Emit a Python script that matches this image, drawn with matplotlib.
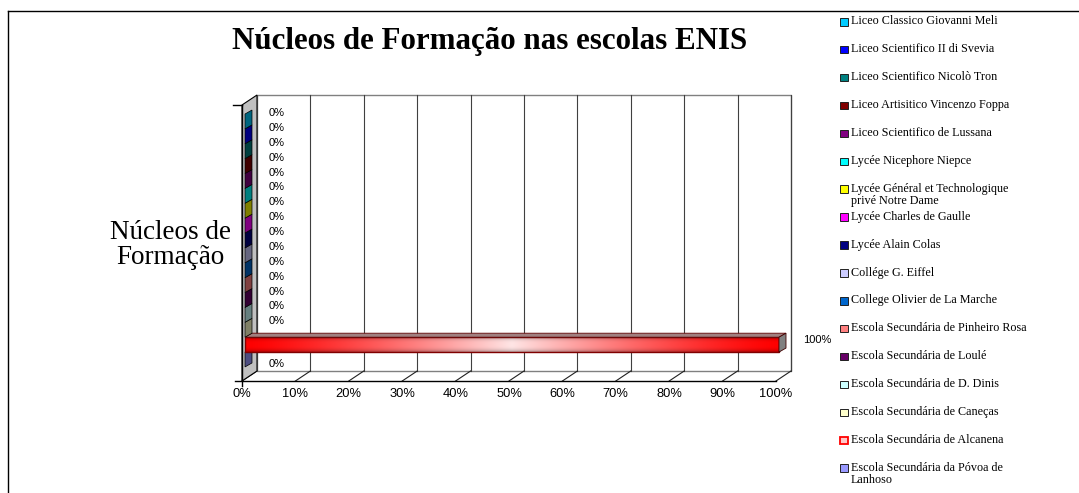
import numpy as np
import matplotlib
matplotlib.use('Agg')
import matplotlib.pyplot as plt
from matplotlib.patches import Polygon, Rectangle
from matplotlib.lines import Line2D

# series in legend order (top of chart first)
schools = [
    'Liceo Classico Giovanni Meli',
    'Liceo Scientifico II di Svevia',
    'Liceo Scientifico Nicolò Tron',
    'Liceo Artisitico Vincenzo Foppa',
    'Liceo Scientifico de Lussana',
    'Lycée Nicephore Niepce',
    'Lycée Général et Technologique\nprivé Notre Dame',
    'Lycée Charles de Gaulle',
    'Lycée Alain Colas',
    'Collége G. Eiffel',
    'College Olivier de La Marche',
    'Escola Secundária de Pinheiro Rosa',
    'Escola Secundária de Loulé',
    'Escola Secundária de D. Dinis',
    'Escola Secundária de Caneças',
    'Escola Secundária de Alcanena',
    'Escola Secundária da Póvoa de\nLanhoso',
]
values = [0, 0, 0, 0, 0, 0, 0, 0, 0, 0, 0, 0, 0, 0, 0, 100, 0]
colors = ['#00CCFF', '#0000FF', '#008080', '#800000', '#800080', '#00FFFF',
          '#FFFF00', '#FF00FF', '#000080', '#CCCCFF', '#0066CC', '#FF8080',
          '#660066', '#CCFFFF', '#FFFFCC', '#FF0000', '#9999FF']
category = 'Núcleos de\nFormação'
title = 'Núcleos de Formação nas escolas ENIS'
xticks = [0, 10, 20, 30, 40, 50, 60, 70, 80, 90, 100]

W, H = 1079, 493
SERIF = ['Liberation Serif', 'DejaVu Serif']
SANS = ['Liberation Sans', 'DejaVu Sans']


def fx(px):
    return px / W


def fy(py):
    return 1 - py / H


def shade(c, f=0.5):
    r, g, b = matplotlib.colors.to_rgb(c)
    return (r * f, g * f, b * f)


fig = plt.figure(figsize=(W / 100, H / 100), dpi=100)
ax = fig.add_axes([fx(242), fy(381), 534 / W, 276 / H])
y0, y1 = -1.31, 17.24
ax.axis('off')

sx = 534 / 100
sy = 276 / (y1 - y0)


def off(dxp, dyp):
    return dxp / sx, dyp / sy


WX, WY = off(15, 10)   # wall depth
FX, FY = off(3, 2)     # bar front face
BX, BY = off(10, 6)    # bar back face

# back wall, floor, side wall
ax.add_patch(Polygon([(WX, y0 + WY), (100 + WX, y0 + WY), (100 + WX, y1 + WY), (WX, y1 + WY)],
                     closed=True, fc='white', ec='#808080', lw=1, zorder=1, clip_on=False))
for t in xticks[1:]:
    ax.plot([t + WX, t + WX], [y0 + WY, y1 + WY], color='#404040', lw=0.8, zorder=2, clip_on=False)
for t in xticks:
    ax.plot([t, t + WX], [y0, y0 + WY], color='#202020', lw=0.8, zorder=2, clip_on=False)
ax.add_patch(Polygon([(0, y0), (WX, y0 + WY), (WX, y1 + WY), (0, y1)],
                     closed=True, fc='#C0C0C0', ec='black', lw=0.8, zorder=3, clip_on=False))
ax.plot([-1.3, 100], [y0, y0], color='black', lw=1, zorder=3, clip_on=False)
ax.plot([-1.6, 0], [y1, y1], color='black', lw=1, zorder=3, clip_on=False)
ax.plot([0, 0], [y0 - 0.35, y1], color='black', lw=1, zorder=3, clip_on=False)

# gradient for the non-zero bar
gx = np.linspace(0, 1, 300)
gy = np.linspace(0, 1, 30)
hw = 0.9 * (1 - np.abs(2 * gx - 1)) ** 1.3
dk = 1 - 0.3 * np.abs(2 * gy - 1) ** 3
img = np.zeros((len(gy), len(gx), 3))
img[..., 0] = dk[:, None]
img[..., 1] = hw[None, :] * dk[:, None]
img[..., 2] = hw[None, :] * dk[:, None]

n = len(schools)
for k in range(n - 1, -1, -1):
    pos = n - 1 - k
    v = values[k]
    yb, yt = pos - 0.5, pos + 0.5
    z = 5 + pos
    if v > 0:
        ax.imshow(img, extent=(FX, v + FX, yb + FY, yt + FY), aspect='auto',
                  origin='lower', zorder=z, interpolation='bilinear', clip_on=False)
        ax.add_patch(Rectangle((FX, yb + FY), v, 1, fc='none', ec='#800000', lw=1,
                               zorder=z, clip_on=False))
        ax.add_patch(Polygon([(FX, yt + FY), (v + FX, yt + FY), (v + BX, yt + BY), (BX, yt + BY)],
                             closed=True, fc='#A08080', ec='#600000', lw=0.6, zorder=z, clip_on=False))
        ax.add_patch(Polygon([(v + FX, yb + FY), (v + FX, yt + FY), (v + BX, yt + BY), (v + BX, yb + BY)],
                             closed=True, fc='#808080', ec='#400000', lw=0.6, zorder=z, clip_on=False))
    else:
        ax.add_patch(Polygon([(v + FX, yb + FY), (v + FX, yt + FY), (v + BX, yt + BY), (v + BX, yb + BY)],
                             closed=True, fc=shade(colors[k]), ec='black', lw=0.5, zorder=z, clip_on=False))
    # label sits above the bar centre, or below it when the bar above is longer
    ly = pos + 0.3 + BY
    if k > 0 and values[k - 1] > v:
        ly = pos - 0.2
    elif v > 0:
        ly = pos + 0.05 + BY
    lx = v + BX + off(17, 0)[0]
    ax.text(lx, ly, f'{v}%', ha='left', va='center', fontsize=8,
            family=SANS, zorder=30, clip_on=False)

ax.set_xlim(0, 100)
ax.set_ylim(y0, y1)

for t in xticks:
    ax.annotate(f'{t}%', xy=(t, y0), xytext=(0, -13), textcoords='offset pixels',
                ha='center', va='center', fontsize=9.3, family=SANS)

ax.annotate(category, xy=(0, (y0 + y1) / 2), xytext=(-72, -2), textcoords='offset pixels',
            ha='center', va='center', fontsize=19.5, family=SERIF, linespacing=0.95)

fig.text(fx(490), fy(42), title, ha='center', va='center', fontsize=22.3,
         fontweight='bold', family=SERIF)

# legend
for k, name in enumerate(schools):
    yc = 22 + k * 27.9
    if k == 15:
        fc, ec, lw = '#FFC8C8', '#FF0000', 1.3
    else:
        fc, ec, lw = colors[k], '#202020', 0.7
    fig.add_artist(Rectangle((fx(840), fy(yc + 3.5)), 7.5 / W, 7.5 / H, fc=fc, ec=ec, lw=lw,
                             transform=fig.transFigure))
    fig.text(fx(851), fy(yc - 6.5), name, ha='left', va='top', fontsize=8.7,
             family=SERIF, linespacing=1.0)

# chart area border
fig.add_artist(Line2D([fx(8), fx(8)], [fy(11), fy(510)], color='black', lw=1,
                      transform=fig.transFigure))
fig.add_artist(Line2D([fx(8), fx(1090)], [fy(11), fy(11)], color='black', lw=1,
                      transform=fig.transFigure))

fig.savefig('out.png', dpi=100)
